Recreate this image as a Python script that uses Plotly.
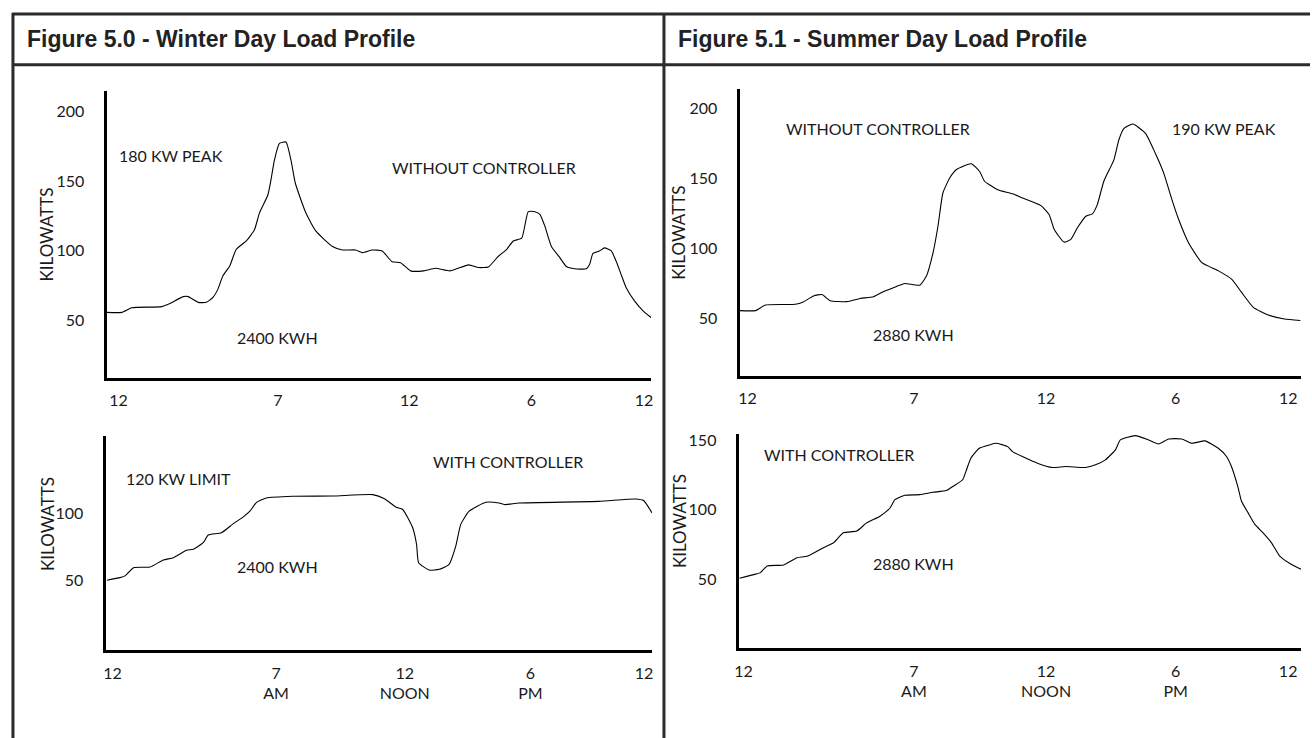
import plotly.graph_objects as go

# ---------------- data (hour of day, kilowatts) ----------------
winter_without_h = [0, 0.67, 1.11, 2.43, 2.79, 3.38, 3.6, 4.04, 4.4, 4.69, 4.91, 5.13, 5.43, 5.72, 6.16, 6.52,
                    6.74, 7.11, 7.25, 7.4, 7.62, 7.91, 8.13, 8.32, 8.79, 9.23, 9.96, 10.4, 10.98, 11.28, 11.71,
                    12.15, 12.59, 12.96, 13.4, 13.98, 14.5, 15.15, 15.96, 16.4, 16.83, 17.27, 17.64, 17.93,
                    18.3, 18.59, 18.88, 19.1, 19.32, 19.61, 19.98, 20.27, 20.63, 21.15, 21.29, 21.44, 21.73,
                    21.95, 22.24, 22.46, 22.68, 22.9, 23.27, 23.64, 24]
winter_without_kw = [55.7, 55.7, 59, 59.8, 62, 67, 67, 62.9, 62.9, 66.4, 72.4, 82, 89, 101, 107, 115,
                     127, 140, 151, 165, 177, 178, 165, 148.6, 127, 114, 103, 100.5, 100.5, 98.6, 100.5,
                     99.8, 92, 91.4, 85.5, 85.5, 87.4, 85.5, 89.8, 87.9, 88.3, 96, 101, 107,
                     109, 128, 128, 126, 117.6, 103, 95, 88.6, 87, 87, 90, 98, 99.8,
                     102, 100, 92.6, 83, 73.6, 64, 57, 52]

winter_with_h = [0.06, 0.64, 0.86, 1.23, 1.96, 2.54, 2.98, 3.56, 3.85, 4.29, 4.51, 5.09, 5.6, 6.04, 6.34,
                 6.63, 7.06, 8.23, 9.98, 11.74, 12.25, 12.76, 13.05, 13.49, 13.66, 13.75, 14.22, 14.66,
                 15.09, 15.38, 15.6, 15.97, 16.7, 17.28, 17.57, 18.16, 21.66, 23.27, 23.63, 24]
winter_with_kw = [50.5, 52.4, 53.7, 59.8, 60.3, 65.5, 67.2, 72.7, 73.4, 78.3, 84, 85.7, 92.3, 97.3, 101.7,
                  108.3, 111.5, 112.8, 113, 114, 111, 104.7, 103, 89.4, 77, 63.5, 58, 58.6,
                  62.3, 75.8, 91.9, 101.7, 108.3, 107.8, 106.6, 107.8, 109, 110.8, 109.6, 100.4]

summer_without_h = [0, 0.68, 1.11, 2.38, 2.74, 3.16, 3.52, 3.87, 4.58, 5.15, 5.72, 6.14, 6.71, 7.06, 7.7,
                    7.99, 8.27, 8.48, 8.69, 8.98, 9.26, 9.9, 10.26, 10.47, 10.68, 11.03, 11.67, 12.1,
                    12.88, 13.23, 13.45, 13.87, 14.16, 14.44, 14.8, 15.08, 15.29, 15.57, 16, 16.21,
                    16.43, 16.81, 17.35, 17.77, 18.13, 18.48, 18.77, 19.19, 19.76, 20.47, 21.03, 21.46,
                    21.96, 22.6, 23.29, 23.97]
summer_without_kw = [55.5, 55.5, 59.5, 60, 61.9, 66, 67, 62.6, 61.9, 64.2, 65.4, 69, 72.8, 74.9, 73.7,
                     80.4, 97, 116, 139.6, 150.3, 156.2, 160.5, 155, 148, 145.5, 142, 139, 136,
                     130.6, 124.2, 113.5, 104.5, 106.4, 114.7, 123, 124.7, 131.3, 148, 163.3, 177.5,
                     185.8, 188.9, 182.3, 168, 153.8, 134.9, 120.6, 104, 89.8, 83.9, 78, 68.5,
                     57.8, 52.3, 49.5, 48.4]

summer_with_h = [0.04, 0.72, 0.93, 1.22, 1.92, 2.49, 2.92, 3.62, 4.05, 4.47, 5.04, 5.46, 6.03, 6.46, 6.67,
                 7.09, 7.73, 8.29, 8.86, 9.14, 9.56, 9.7, 9.91, 10.27, 10.7, 10.98, 11.48, 11.69, 12.75,
                 13.39, 13.96, 14.8, 15.23, 15.65, 16.08, 16.29, 16.93, 17.5, 17.92, 18.35, 18.91, 19.34,
                 19.9, 20.47, 20.82, 21.03, 21.32, 21.46, 21.74, 22.03, 22.38, 22.74, 23.09, 23.58, 24]
summer_with_kw = [50.7, 53.6, 54.7, 59.5, 60.2, 65.4, 66.4, 72.6, 76.1, 83.3, 84.5, 90.4, 95.2, 101.1, 107.1,
                  110.2, 110.7, 112.4, 113.6, 116.6, 121.4, 127.4, 136.9, 144, 146.4, 147.6, 145.2, 141.6, 133.3,
                  130.2, 130.9, 130.2, 132.1, 135.7, 142.9, 150, 153.1, 150, 147.1, 150.7, 150.7, 147.6,
                  149.3, 144, 138.1, 130.9, 115.4, 105.9, 97.6, 89.3, 83.3, 76.1, 66.6, 60.7, 57.1]

hour_labels_top = ["12", "7", "12", "6", "12"]
hour_labels_bottom = ["12", "7<br>AM", "12<br>NOON", "6<br>PM", "12"]
winter_top_tick_pos = [0.53, 7.55, 13.34, 18.73, 23.69]
winter_bot_tick_pos = [0.31, 7.49, 13.14, 18.66, 23.65]
summer_top_tick_pos = [0.34, 7.45, 13.1, 18.64, 23.45]
summer_bot_tick_pos = [0.21, 7.48, 13.12, 18.65, 23.45]

kw_ticks_200 = [50, 100, 150, 200]
kw_ticks_100 = [50, 100]
kw_ticks_150 = [50, 100, 150]

panel_titles = ["Figure 5.0 - Winter Day Load Profile", "Figure 5.1 - Summer Day Load Profile"]

# ---------------- figure ----------------
W, H = 1312, 738
FONT = "Lato"
TXT = "#1a1a1a"


def px(x):
    return x / W


def py(y):
    return 1 - y / H


fig = go.Figure()

series = [
    (winter_without_h, winter_without_kw, "x", "y"),
    (winter_with_h, winter_with_kw, "x2", "y2"),
    (summer_without_h, summer_without_kw, "x3", "y3"),
    (summer_with_h, summer_with_kw, "x4", "y4"),
]
for hx, kw, xa, ya in series:
    fig.add_trace(go.Scatter(x=hx, y=kw, mode="lines", xaxis=xa, yaxis=ya,
                             line=dict(color="black", width=1.1, shape="spline", smoothing=0.5),
                             showlegend=False, hoverinfo="skip"))

tick_font = dict(family=FONT, size=16, color=TXT)


def xaxis(domain, tickvals, ticktext):
    return dict(domain=domain, range=[0, 24], showgrid=False, zeroline=False,
                showline=True, linecolor="black", linewidth=3,
                tickmode="array", tickvals=tickvals, ticktext=ticktext,
                ticks="outside", ticklen=6, tickcolor="rgba(0,0,0,0)",
                tickfont=tick_font, fixedrange=True)


def yaxis(domain, rng, tickvals, anchor):
    return dict(domain=domain, range=rng, showgrid=False, zeroline=False,
                showline=True, linecolor="black", linewidth=3,
                tickmode="array", tickvals=tickvals,
                ticks="outside", ticklen=16, tickcolor="rgba(0,0,0,0)",
                tickfont=tick_font, anchor=anchor, fixedrange=True)


layout = dict(
    width=W, height=H, margin=dict(l=0, r=0, t=0, b=0),
    paper_bgcolor="white", plot_bgcolor="white", showlegend=False,
    xaxis=dict(xaxis([px(103), px(650)], winter_top_tick_pos, hour_labels_top), anchor="y"),
    yaxis=yaxis([py(376), py(87)], [8.6, 215], kw_ticks_200, "x"),
    xaxis2=dict(xaxis([px(102), px(651)], winter_bot_tick_pos, hour_labels_bottom), anchor="y2"),
    yaxis2=yaxis([py(650), py(434)], [-1.7, 157.8], kw_ticks_100, "x2"),
    xaxis3=dict(xaxis([px(739), px(1303)], summer_top_tick_pos, hour_labels_top), anchor="y3"),
    yaxis3=yaxis([py(374), py(85)], [8.75, 214.3], kw_ticks_200, "x3"),
    xaxis4=dict(xaxis([px(738), px(1303)], summer_bot_tick_pos, hour_labels_bottom), anchor="y4"),
    yaxis4=yaxis([py(648), py(432)], [0.2, 154.5], kw_ticks_150, "x4"),
)
fig.update_layout(**layout)

# frame lines
frame = dict(color="#2b2b2b", width=3)
shapes = [
    dict(type="line", xref="paper", yref="paper", x0=px(8), x1=px(1312), y0=py(10), y1=py(10), line=frame),
    dict(type="line", xref="paper", yref="paper", x0=px(8), x1=px(1312), y0=py(61), y1=py(61), line=frame),
    dict(type="line", xref="paper", yref="paper", x0=px(9), x1=px(9), y0=py(9), y1=py(740), line=frame),
    dict(type="line", xref="paper", yref="paper", x0=px(663), x1=px(663), y0=py(9), y1=py(740), line=frame),
]
fig.update_layout(shapes=shapes)

ann = []
# panel titles
for i, (x_left) in enumerate([21, 675]):
    ann.append(dict(text="<b>" + panel_titles[i] + "</b>", xref="paper", yref="paper",
                    x=px(x_left), y=py(35), xanchor="left", yanchor="middle", showarrow=False,
                    font=dict(family="Liberation Sans", size=23, color="#222")))

label_font = dict(family=FONT, size=16, color=TXT)


def note(text, x, y, xr, yr):
    ann.append(dict(text=text, x=x, y=y, xref=xr, yref=yr, xanchor="left", yanchor="middle",
                    showarrow=False, font=label_font))


note("180 KW PEAK", 0.48, 168.6, "x", "y")
note("WITHOUT CONTROLLER", 12.5, 160, "x", "y")
note("2400 KWH", 5.66, 37.9, "x", "y")
note("120 KW LIMIT", 0.79, 126, "x2", "y2")
note("WITH CONTROLLER", 14.28, 138.6, "x2", "y2")
note("2400 KWH", 5.69, 61, "x2", "y2")
note("WITHOUT CONTROLLER", 1.91, 185.8, "x3", "y3")
note("2880 KWH", 5.62, 38.6, "x3", "y3")
note("190 KW PEAK", 18.38, 185.8, "x3", "y3")
note("WITH CONTROLLER", 0.98, 139.5, "x4", "y4")
note("2880 KWH", 5.65, 60.9, "x4", "y4")
note("150 KW LIMIT", 18.31, 159.5, "x4", "y4")

# y axis titles
for xc, yc in [(43, 232), (43, 523), (678, 230), (678, 520)]:
    ann.append(dict(text="KILOWATTS", xref="paper", yref="paper", x=px(xc), y=py(yc),
                    xanchor="center", yanchor="middle", textangle=-90, showarrow=False,
                    font=dict(family=FONT, size=17, color=TXT)))

fig.update_layout(annotations=ann)

fig.write_html("out.html", config={"displayModeBar": False},
               post_script="document.body.style.margin='0';document.body.style.overflow='hidden';")
